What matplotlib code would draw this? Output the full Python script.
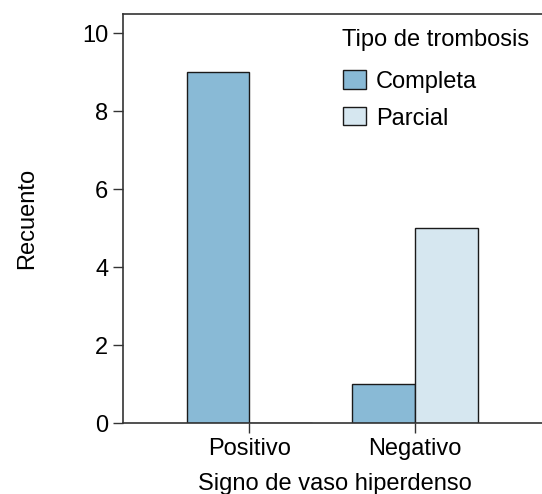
import matplotlib.pyplot as plt
import numpy as np
from matplotlib.patches import Patch

plt.rcParams['font.family'] = ['Liberation Sans', 'DejaVu Sans']

# data
categorias = ['Positivo', 'Negativo']
completa = [9, 1]
parcial = [0, 5]
tipos = ['Completa', 'Parcial']
colores = ['#89bad6', '#d6e7f0']

fs = 17

fig = plt.figure(figsize=(5.42, 4.94), dpi=100)
ax = fig.add_axes([123 / 542, 71 / 494, 1 - 123 / 542 + 0.01, 409 / 494])

x = np.arange(len(categorias))
w = 0.38
ax.bar(x - w / 2, completa, w, color=colores[0], edgecolor='#1a1a1a', linewidth=1)
ax.bar(x + w / 2, parcial, w, color=colores[1], edgecolor='#1a1a1a', linewidth=1)

ax.set_xlim(-0.764, 1.80)
ax.set_ylim(0, 10.49)
ax.set_yticks([0, 2, 4, 6, 8, 10])
ax.set_xticks(x)
ax.set_xticklabels(categorias)
ax.tick_params(labelsize=fs, length=7, color='#333333', width=1)
ax.tick_params(axis='x', pad=4)

for s in ['left', 'bottom', 'top']:
    ax.spines[s].set_color('#333333')
    ax.spines[s].set_linewidth(1.2)
ax.spines['right'].set_visible(False)

ax.set_xlabel('Signo de vaso hiperdenso', fontsize=fs, labelpad=9)
ax.set_ylabel('Recuento', fontsize=fs, labelpad=32)

# legend title as plain text, entries below it
ax.text(0.516, 0.936, 'Tipo de trombosis', transform=ax.transAxes, fontsize=fs,
        ha='left', va='center')
handles = [Patch(facecolor=c, edgecolor='#1a1a1a', label=t) for c, t in zip(colores, tipos)]
ax.legend(handles=handles, fontsize=fs, frameon=False, loc='upper left',
          bbox_to_anchor=(0.518, 0.862), borderaxespad=0, borderpad=0,
          handlelength=0.97, handleheight=0.8, handletextpad=0.42, labelspacing=0.62)

fig.savefig('out.png', dpi=100)
